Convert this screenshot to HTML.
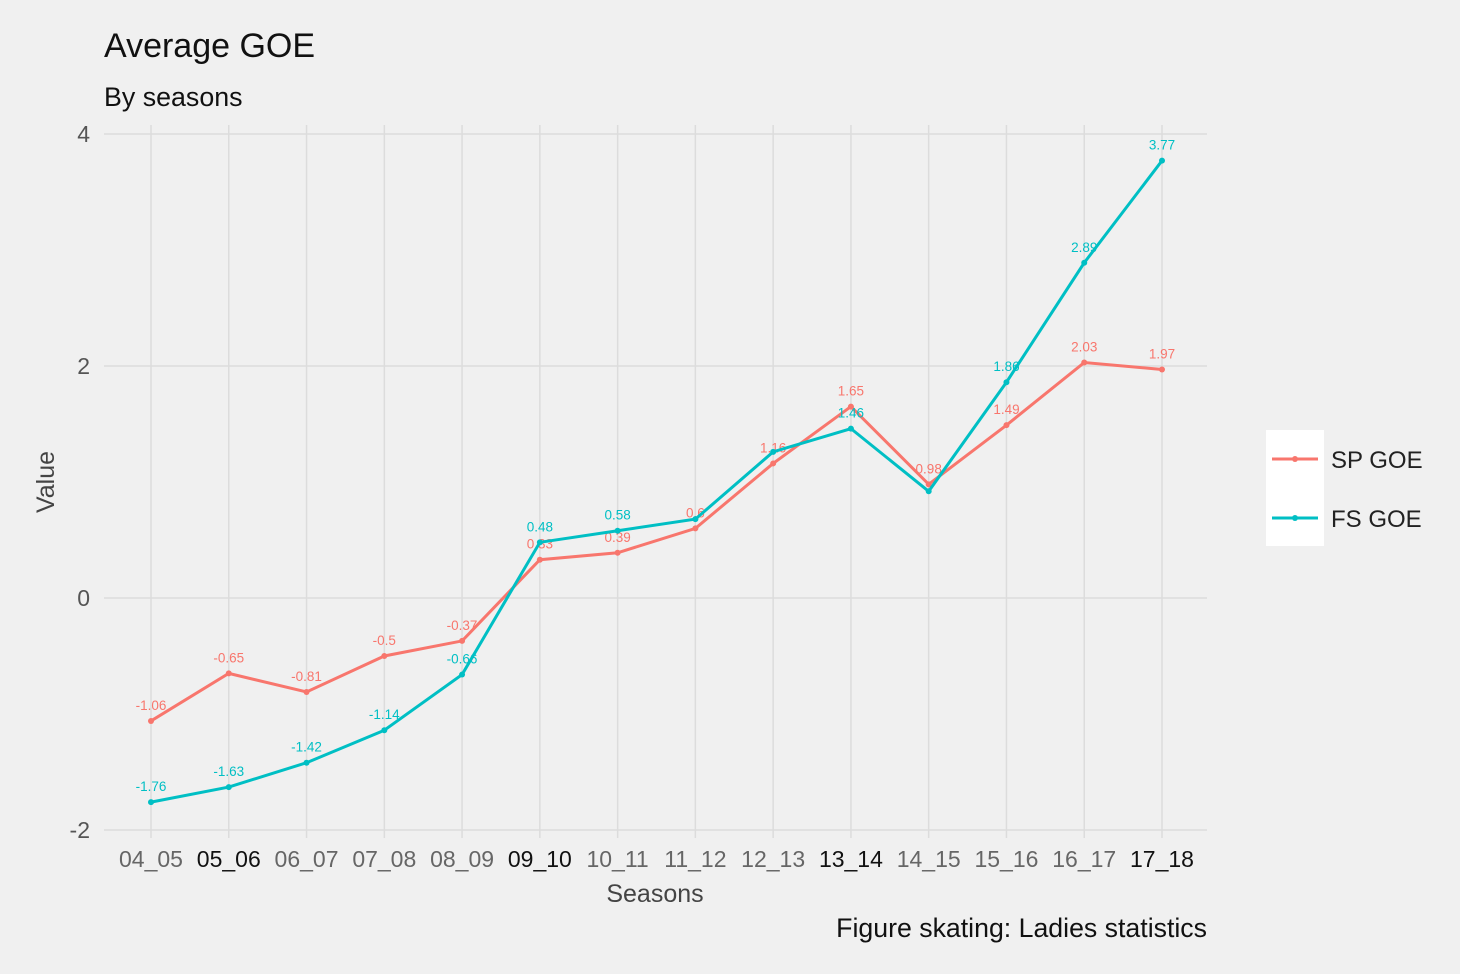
<!DOCTYPE html>
<html><head><meta charset="utf-8"><style>
body{margin:0;background:#f0f0f0;font-family:"Liberation Sans",sans-serif}
svg{display:block}
</style></head><body>
<svg id="c" width="1460" height="974">
<rect width="1460" height="974" fill="#f0f0f0"/>
<text x="104" y="57" font-size="34" fill="#111">Average GOE</text>
<text x="104" y="106" font-size="26.8" fill="#111">By seasons</text>
<g id="grid"></g><g id="marks"></g><g id="axes"></g>
<text x="655" y="902" font-size="25" fill="#444" text-anchor="middle">Seasons</text>
<text transform="translate(54,482) rotate(-90)" font-size="25" fill="#444" text-anchor="middle">Value</text>
<text x="1207" y="937" font-size="26.7" fill="#111" text-anchor="end">Figure skating: Ladies statistics</text>
<rect x="1266" y="430" width="58" height="116" fill="#fff"/>
<g><line x1="1272" y1="459" x2="1318" y2="459" stroke="#f8766d" stroke-width="3"/><circle cx="1295" cy="459" r="3" fill="#f8766d"/><text x="1331" y="468" font-size="24" fill="#222">SP GOE</text></g>
<g><line x1="1272" y1="518" x2="1318" y2="518" stroke="#00bfc4" stroke-width="3"/><circle cx="1295" cy="518" r="3" fill="#00bfc4"/><text x="1331" y="527" font-size="24" fill="#222">FS GOE</text></g>
</svg>
<script>
const seasons=["04_05","05_06","06_07","07_08","08_09","09_10","10_11","11_12","12_13","13_14","14_15","15_16","16_17","17_18"];
const spValues=[-1.06,-0.65,-0.81,-0.5,-0.37,0.33,0.39,0.6,1.16,1.65,0.98,1.49,2.03,1.97];
const fsValues=[-1.76,-1.63,-1.42,-1.14,-0.66,0.48,0.58,0.68,1.26,1.46,0.92,1.86,2.89,3.77];
const fsHiddenLabels=["11_12","12_13","14_15"];
const yTicks=[-2,0,2,4];
const boldSeasons=["05_06","09_10","13_14","17_18"];
const NS="http://www.w3.org/2000/svg";
const xS=i=>151+i*(1162-151)/(seasons.length-1);
const yS=v=>598-v*116;
function mk(tag,attrs,parent,txt){const e=document.createElementNS(NS,tag);for(const k in attrs)e.setAttribute(k,attrs[k]);if(txt!==undefined)e.textContent=txt;parent.appendChild(e);return e;}
const grid=document.getElementById('grid'),marks=document.getElementById('marks'),axes=document.getElementById('axes');
yTicks.forEach(t=>{
 const l=mk('line',{x1:104,x2:1207,y1:yS(t),y2:yS(t),stroke:'#dcdcdc','stroke-width':1.5},grid);
 
 
 const tx=mk('text',{x:90,y:yS(t)+8,'font-size':23,fill:'#555','text-anchor':'end'},axes,String(t));
 
 
});
seasons.forEach((s,i)=>{
 const l=mk('line',{x1:xS(i),x2:xS(i),y1:125,y2:838,stroke:'#dcdcdc','stroke-width':1.5},grid);
 
 
 const b=boldSeasons.includes(s);
 const tx=mk('text',{x:xS(i),y:867,'font-size':23,fill:b?'#111':'#666','text-anchor':'middle'},axes,s);
 
 
});
function series(vals,color,name,hidden){
 const pts=vals.map((v,i)=>xS(i)+','+yS(v)).join(' ');
 const pl=mk('polyline',{points:pts,fill:'none',stroke:color,'stroke-width':3},marks);
 
 
 vals.forEach((v,i)=>{
  const c=mk('circle',{cx:xS(i),cy:yS(v),r:3,fill:color},marks);
  
  
  if(hidden.includes(seasons[i]))return;
  const t=mk('text',{x:xS(i),y:yS(v)-11,'font-size':13.5,fill:color,'text-anchor':'middle'},marks,String(v));
  
  
 });
}
series(spValues,'#f8766d','sp-goe',[]);
series(fsValues,'#00bfc4','fs-goe',fsHiddenLabels);
</script>
</body></html>
